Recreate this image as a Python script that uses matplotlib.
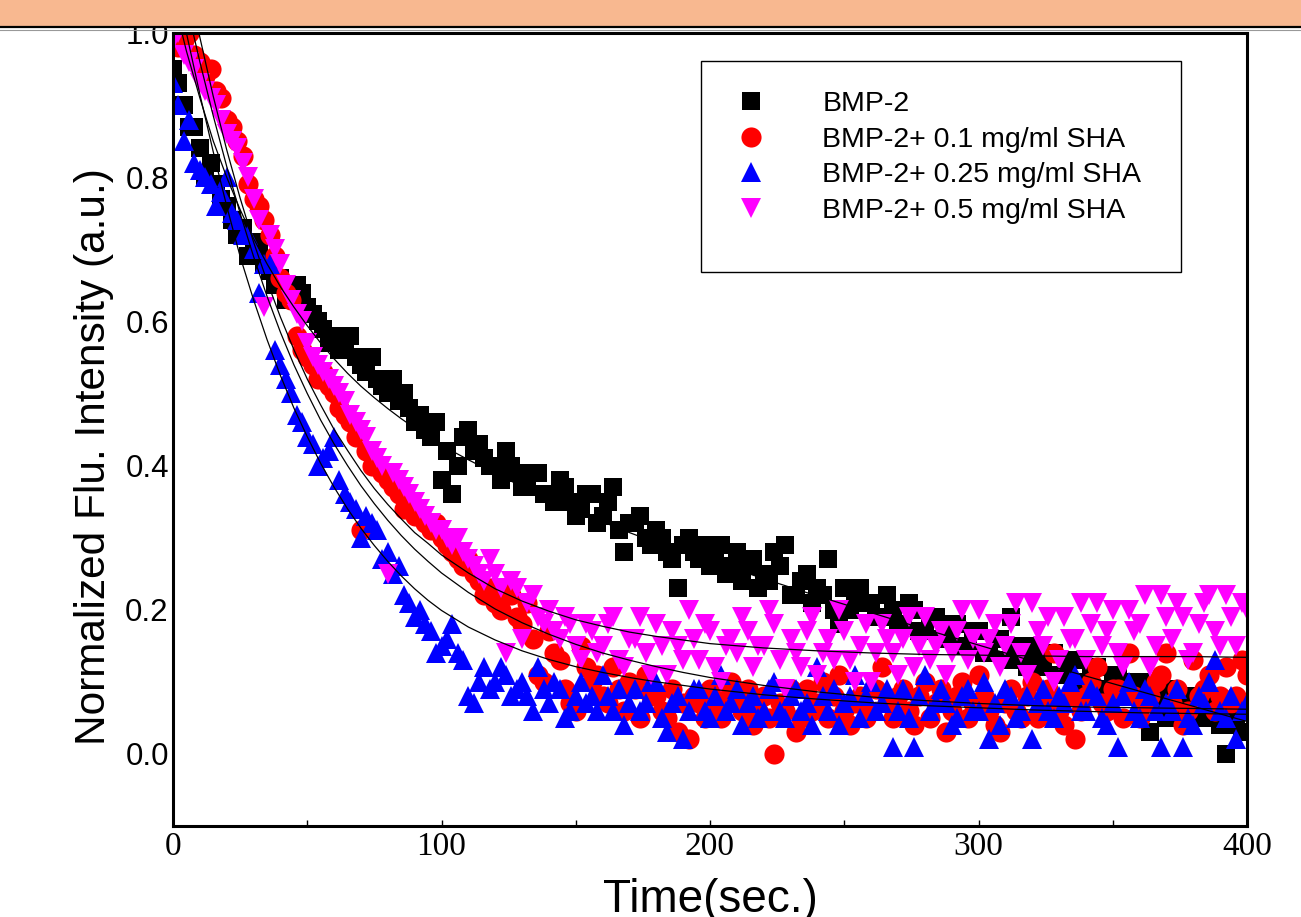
import matplotlib
matplotlib.use("Agg")
import matplotlib.pyplot as plt
from matplotlib.patches import Rectangle
from matplotlib.lines import Line2D
from matplotlib.ticker import MultipleLocator

# sampling times of the measurements (sec.), one reading every 2 s
time_s = list(range(0, 401, 2))

bmp2 = [0.95, 0.93, 0.90, 0.87, 0.87, 0.84, 0.80, 0.82, 0.79, 0.77,
        0.76, 0.74, 0.72, 0.73, 0.69, 0.71, 0.70, 0.68, 0.67, 0.65,
        0.66, 0.63, 0.64, 0.65, 0.64, 0.62, 0.61, 0.60, 0.59, 0.57,
        0.58, 0.56, 0.57, 0.58, 0.55, 0.54, 0.53, 0.55, 0.52, 0.51,
        0.50, 0.52, 0.49, 0.50, 0.48, 0.46, 0.47, 0.45, 0.44, 0.46,
        0.38, 0.42, 0.36, 0.40, 0.44, 0.45, 0.42, 0.43, 0.41, 0.40,
        0.40, 0.38, 0.42, 0.40, 0.39, 0.37, 0.37, 0.39, 0.39, 0.36,
        0.36, 0.35, 0.38, 0.37, 0.35, 0.33, 0.34, 0.36, 0.36, 0.32,
        0.33, 0.35, 0.37, 0.31, 0.28, 0.32, 0.32, 0.33, 0.30, 0.29,
        0.31, 0.30, 0.28, 0.27, 0.23, 0.29, 0.30, 0.28, 0.27, 0.29,
        0.26, 0.27, 0.29, 0.25, 0.26, 0.28, 0.24, 0.26, 0.27, 0.23,
        0.25, 0.24, 0.28, 0.26, 0.29, 0.22, 0.22, 0.24, 0.25, 0.21,
        0.23, 0.22, 0.27, 0.20, 0.18, 0.23, 0.20, 0.22, 0.23, 0.21,
        0.21, 0.19, 0.19, 0.22, 0.20, 0.18, 0.18, 0.21, 0.20, 0.17,
        0.17, 0.19, 0.19, 0.16, 0.16, 0.18, 0.18, 0.15, 0.15, 0.17,
        0.17, 0.14, 0.14, 0.16, 0.16, 0.13, 0.19, 0.15, 0.13, 0.12,
        0.15, 0.13, 0.12, 0.14, 0.14, 0.11, 0.11, 0.13, 0.13, 0.10,
        0.10, 0.12, 0.12, 0.09, 0.09, 0.11, 0.11, 0.08, 0.08, 0.10,
        0.10, 0.07, 0.03, 0.09, 0.07, 0.05, 0.09, 0.06, 0.06, 0.08,
        0.08, 0.05, 0.05, 0.07, 0.07, 0.04, 0.00, 0.06, 0.04, 0.03,
        0.06]

sha_01 = [1.00, 0.98, 0.99, 1.00, 0.97, 0.96, 0.94, 0.95, 0.92, 0.91,
          0.88, 0.87, 0.85, 0.83, 0.79, 0.77, 0.76, 0.74, 0.72, 0.69,
          0.66, 0.64, 0.63, 0.58, 0.56, 0.55, 0.54, 0.52, 0.53, 0.51,
          0.50, 0.48, 0.47, 0.46, 0.44, 0.31, 0.42, 0.40, 0.40, 0.39,
          0.38, 0.37, 0.36, 0.34, 0.35, 0.33, 0.33, 0.32, 0.31, 0.32,
          0.30, 0.29, 0.28, 0.27, 0.26, 0.27, 0.25, 0.24, 0.22, 0.23,
          0.21, 0.20, 0.23, 0.22, 0.19, 0.18, 0.21, 0.16, 0.11, 0.10,
          0.17, 0.14, 0.13, 0.09, 0.07, 0.06, 0.15, 0.12, 0.10, 0.11,
          0.08, 0.07, 0.12, 0.09, 0.06, 0.10, 0.09, 0.05, 0.11, 0.08,
          0.08, 0.06, 0.05, 0.09, 0.03, 0.07, 0.02, 0.08, 0.07, 0.05,
          0.09, 0.06, 0.05, 0.08, 0.10, 0.07, 0.06, 0.09, 0.04, 0.06,
          0.08, 0.05, 0.00, 0.07, 0.06, 0.09, 0.03, 0.05, 0.09, 0.06,
          0.07, 0.10, 0.05, 0.08, 0.11, 0.06, 0.04, 0.07, 0.08, 0.05,
          0.06, 0.09, 0.12, 0.07, 0.05, 0.08, 0.09, 0.06, 0.04, 0.08,
          0.10, 0.05, 0.07, 0.09, 0.03, 0.06, 0.08, 0.10, 0.05, 0.07,
          0.11, 0.08, 0.06, 0.04, 0.03, 0.07, 0.09, 0.06, 0.05, 0.08,
          0.10, 0.05, 0.07, 0.09, 0.14, 0.06, 0.04, 0.08, 0.02, 0.06,
          0.08, 0.10, 0.12, 0.07, 0.06, 0.09, 0.09, 0.05, 0.14, 0.08,
          0.05, 0.07, 0.08, 0.10, 0.11, 0.14, 0.07, 0.09, 0.04, 0.06,
          0.13, 0.08, 0.09, 0.11, 0.06, 0.08, 0.12, 0.07, 0.08, 0.13,
          0.11]

sha_025 = [0.93, 0.90, 0.85, 0.88, 0.82, 0.81, 0.80, 0.79, 0.76, 0.78,
           0.80, 0.75, 0.74, 0.72, 0.72, 0.70, 0.64, 0.68, 0.68, 0.56,
           0.54, 0.52, 0.50, 0.47, 0.46, 0.44, 0.43, 0.40, 0.41, 0.42,
           0.44, 0.38, 0.36, 0.35, 0.34, 0.30, 0.33, 0.32, 0.31, 0.27,
           0.28, 0.25, 0.26, 0.22, 0.21, 0.19, 0.20, 0.18, 0.17, 0.14,
           0.15, 0.16, 0.18, 0.14, 0.13, 0.08, 0.07, 0.10, 0.12, 0.09,
           0.10, 0.12, 0.11, 0.08, 0.09, 0.10, 0.08, 0.06, 0.12, 0.09,
           0.07, 0.10, 0.09, 0.05, 0.06, 0.08, 0.10, 0.07, 0.08, 0.06,
           0.11, 0.08, 0.06, 0.09, 0.04, 0.07, 0.09, 0.06, 0.07, 0.10,
           0.10, 0.05, 0.03, 0.07, 0.08, 0.02, 0.06, 0.09, 0.09, 0.06,
           0.05, 0.08, 0.11, 0.06, 0.07, 0.09, 0.04, 0.07, 0.08, 0.05,
           0.06, 0.09, 0.10, 0.06, 0.05, 0.08, 0.09, 0.06, 0.07, 0.04,
           0.12, 0.08, 0.06, 0.09, 0.04, 0.07, 0.08, 0.11, 0.05, 0.08,
           0.10, 0.06, 0.07, 0.09, 0.01, 0.06, 0.09, 0.05, 0.01, 0.08,
           0.11, 0.06, 0.07, 0.09, 0.07, 0.04, 0.05, 0.08, 0.09, 0.06,
           0.06, 0.10, 0.02, 0.07, 0.04, 0.09, 0.08, 0.05, 0.06, 0.08,
           0.02, 0.07, 0.09, 0.06, 0.05, 0.08, 0.07, 0.10, 0.11, 0.06,
           0.06, 0.09, 0.08, 0.05, 0.04, 0.07, 0.01, 0.08, 0.10, 0.06,
           0.05, 0.09, 0.08, 0.06, 0.01, 0.07, 0.06, 0.09, 0.01, 0.05,
           0.04, 0.08, 0.07, 0.10, 0.13, 0.06, 0.05, 0.08, 0.02, 0.06,
           0.07]

sha_05 = [0.99, 1.00, 0.97, 0.96, 0.95, 0.93, 0.92, 0.91, 0.90, 0.88,
          0.86, 0.85, 0.84, 0.82, 0.80, 0.77, 0.74, 0.62, 0.72, 0.70,
          0.68, 0.65, 0.63, 0.61, 0.60, 0.57, 0.55, 0.54, 0.53, 0.52,
          0.51, 0.50, 0.49, 0.47, 0.46, 0.45, 0.44, 0.42, 0.41, 0.40,
          0.25, 0.39, 0.38, 0.37, 0.36, 0.35, 0.34, 0.33, 0.32, 0.31,
          0.31, 0.30, 0.29, 0.30, 0.28, 0.27, 0.26, 0.25, 0.24, 0.27,
          0.25, 0.23, 0.14, 0.24, 0.23, 0.16, 0.21, 0.22, 0.19, 0.18,
          0.20, 0.17, 0.16, 0.19, 0.18, 0.15, 0.13, 0.18, 0.17, 0.14,
          0.15, 0.18, 0.19, 0.13, 0.12, 0.16, 0.16, 0.19, 0.14, 0.11,
          0.18, 0.15, 0.11, 0.17, 0.15, 0.13, 0.20, 0.16, 0.13, 0.18,
          0.17, 0.12, 0.10, 0.15, 0.16, 0.14, 0.19, 0.17, 0.12, 0.15,
          0.15, 0.20, 0.18, 0.13, 0.09, 0.16, 0.14, 0.12, 0.17, 0.19,
          0.11, 0.14, 0.16, 0.13, 0.20, 0.17, 0.13, 0.10, 0.15, 0.18,
          0.10, 0.14, 0.18, 0.16, 0.14, 0.11, 0.16, 0.19, 0.12, 0.15,
          0.19, 0.13, 0.15, 0.17, 0.11, 0.14, 0.17, 0.20, 0.13, 0.16,
          0.20, 0.14, 0.16, 0.18, 0.12, 0.15, 0.18, 0.21, 0.14, 0.11,
          0.21, 0.17, 0.15, 0.19, 0.10, 0.13, 0.19, 0.16, 0.16, 0.21,
          0.13, 0.18, 0.21, 0.15, 0.17, 0.20, 0.14, 0.12, 0.20, 0.17,
          0.18, 0.22, 0.12, 0.15, 0.22, 0.19, 0.16, 0.21, 0.19, 0.13,
          0.14, 0.18, 0.21, 0.22, 0.17, 0.15, 0.22, 0.19, 0.15, 0.21,
          0.20]

fit_t = [0, 5, 10, 15, 20, 25, 30, 35, 40, 45, 50, 55, 60, 65, 70, 75,
         80, 85, 90, 95, 100, 110, 120, 130, 140, 150, 160, 170, 180, 190,
         200, 220, 240, 260, 280, 300, 320, 340, 360, 380, 400]
fit_bmp2 = [1.05, 0.975, 0.91, 0.85, 0.80, 0.755, 0.715, 0.68, 0.648,
            0.62, 0.594, 0.57, 0.548, 0.528, 0.51, 0.494, 0.479, 0.465,
            0.452, 0.44, 0.428, 0.408, 0.389, 0.371, 0.354, 0.338, 0.322,
            0.307, 0.293, 0.28, 0.268, 0.243, 0.219, 0.196, 0.173, 0.151,
            0.129, 0.108, 0.087, 0.066, 0.045]
fit_01 = [1.13, 1.04, 0.96, 0.885, 0.815, 0.75, 0.69, 0.635, 0.585, 0.54,
          0.50, 0.463, 0.43, 0.40, 0.372, 0.347, 0.324, 0.303, 0.284,
          0.267, 0.251, 0.224, 0.201, 0.182, 0.166, 0.152, 0.140, 0.130,
          0.121, 0.113, 0.106, 0.095, 0.086, 0.079, 0.074, 0.070, 0.067,
          0.065, 0.064, 0.063, 0.062]
fit_025 = [1.10, 1.00, 0.915, 0.835, 0.76, 0.69, 0.63, 0.575, 0.525, 0.48,
           0.44, 0.403, 0.37, 0.34, 0.313, 0.289, 0.267, 0.247, 0.229,
           0.213, 0.199, 0.176, 0.158, 0.143, 0.131, 0.121, 0.113, 0.106,
           0.100, 0.095, 0.090, 0.082, 0.076, 0.071, 0.067, 0.064, 0.061,
           0.059, 0.057, 0.056, 0.055]
fit_05 = [1.184, 1.084, 0.994, 0.912, 0.838, 0.771, 0.710, 0.656, 0.606,
          0.561, 0.520, 0.484, 0.450, 0.421, 0.393, 0.368, 0.346, 0.326,
          0.307, 0.292, 0.276, 0.251, 0.229, 0.212, 0.198, 0.186, 0.177,
          0.169, 0.163, 0.158, 0.153, 0.147, 0.143, 0.140, 0.138, 0.137,
          0.136, 0.135, 0.135, 0.135, 0.134]

labels = ["BMP-2", "BMP-2+ 0.1 mg/ml SHA", "BMP-2+ 0.25 mg/ml SHA",
          "BMP-2+ 0.5 mg/ml SHA"]

sans = ["Liberation Sans", "DejaVu Sans"]
serif = ["Liberation Serif", "DejaVu Serif"]

fig = plt.figure(figsize=(13.01, 9.17), dpi=100)
W, H = 1301, 917

# peach banner at the very top
fig.patches.append(Rectangle((0, 1 - 26 / H), 1, 26 / H, transform=fig.transFigure,
                             facecolor="#F8B890", edgecolor="none", zorder=0))
fig.add_artist(Line2D([0, 1], [1 - 27 / H, 1 - 27 / H], transform=fig.transFigure,
                      color="black", lw=1.6))
fig.add_artist(Line2D([0, 1], [1 - 29.5 / H, 1 - 29.5 / H], transform=fig.transFigure,
                      color="#999999", lw=0.8))

ax = fig.add_axes([173 / W, 1 - 826 / H, (1247 - 173) / W, (826 - 33) / H])

styles = [
    (bmp2, "s", "black", 12.5),
    (sha_01, "o", "red", 14.5),
    (sha_025, "^", "blue", 14.5),
    (sha_05, "v", "magenta", 14.5),
]
handles = []
for (vals, mk, col, ms), lab in zip(styles, labels):
    h, = ax.plot(time_s, vals, linestyle="none", marker=mk, ms=ms, color=col,
                 markeredgewidth=0, label=lab)
    handles.append(h)

for f in (fit_bmp2, fit_01, fit_025, fit_05):
    ax.plot(fit_t, f, color="black", lw=0.9, zorder=5)

ax.set_xlim(0, 400)
ax.set_ylim(-0.1, 1.0)
ax.xaxis.set_major_locator(MultipleLocator(100))
ax.xaxis.set_minor_locator(MultipleLocator(50))
ax.set_yticks([0.0, 0.2, 0.4, 0.6, 0.8, 1.0])
ax.set_yticklabels(["0.0", "0.2", "0.4", "0.6", "0.8", "1.0"])
ax.tick_params(axis="x", which="both", direction="in", length=4, width=1, pad=4,
               labelsize=24)
ax.tick_params(axis="y", which="both", length=0, pad=3, labelsize=22.5)
for t in ax.get_xticklabels():
    t.set_fontfamily(serif)
for t in ax.get_yticklabels():
    t.set_fontfamily(sans)
for s in ax.spines.values():
    s.set_linewidth(2.2)

ax.set_ylabel("Normalized Flu. Intensity (a.u.)", fontsize=30.5, family=sans)
ax.yaxis.set_label_coords(-(173 - 114) / 1074, 0.5 - (457 - 430) / 793)
ax.set_xlabel("Time(sec.)", fontsize=33, family=sans)
ax.xaxis.set_label_coords(0.5, -(878 - 826) / 793)

# legend box
ax.add_patch(Rectangle(((701 - 173) / 1074, (826 - 272) / 793),
                       (1181 - 701) / 1074, (272 - 61) / 793,
                       transform=ax.transAxes, facecolor="white",
                       edgecolor="black", lw=1.0, zorder=6))
leg = ax.legend(handles=handles, loc="upper left",
                bbox_to_anchor=((737 - 173) / 1074, (826 - 91) / 793),
                frameon=False, borderpad=0, borderaxespad=0,
                handlelength=1.0, handletextpad=2.0, labelspacing=0.34,
                prop={"family": sans, "size": 20.5})
leg.set_zorder(7)

fig.savefig("out.png", dpi=100)
